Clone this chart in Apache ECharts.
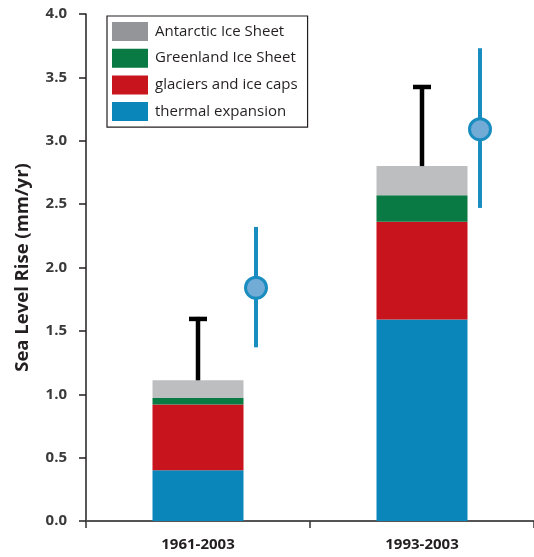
<!DOCTYPE html>
<html><head><meta charset="utf-8">
<script src="https://cdn.jsdelivr.net/npm/echarts@6/dist/echarts.min.js"></script>
<style>html,body{margin:0;padding:0;background:#fff}#c{width:534px;height:557px}</style>
</head><body><div id="c"></div>
<script>
var categories = ['1961-2003', '1993-2003'];
var thermal = [0.40, 1.59];
var glaciers = [0.52, 0.77];
var greenland = [0.05, 0.21];
var antarctic = [0.14, 0.23];
var modelUpper = [1.61, 3.44];
var observed = [1.84, 3.09];
var observedLow = [1.37, 2.47];
var observedHigh = [2.32, 3.73];
var yTicks = [0, 0.5, 1.0, 1.5, 2.0, 2.5, 3.0, 3.5, 4.0];

var FONT = '"Open Sans", "Noto Sans", sans-serif';
var TXT = '#231f20';

var totals = thermal.map(function (v, i) { return v + glaciers[i] + greenland[i] + antarctic[i]; });

function bar(name, data, color) {
  return { name: name, type: 'bar', stack: 'total', data: data, barWidth: 91,
    itemStyle: { color: color }, emphasis: { disabled: true }, z: 2 };
}

var chart = echarts.init(document.getElementById('c'), null, { renderer: 'canvas' });
chart.setOption({
  animation: false,
  grid: { left: 86, width: 456, top: 14, bottom: 36, containLabel: false },
  legend: {
    left: 107, top: 16, orient: 'vertical', icon: 'rect',
    itemWidth: 36, itemHeight: 19, itemGap: 7.7,
    padding: [6, 10, 6, 5],
    borderColor: '#231f20', borderWidth: 1.2,
    textStyle: { fontFamily: FONT, fontSize: 15, color: TXT, padding: [0, 0, 0, 2] },
    data: [
      { name: 'Antarctic Ice Sheet', itemStyle: { color: '#939598' } },
      { name: 'Greenland Ice Sheet', itemStyle: { color: '#0a7a45' } },
      { name: 'glaciers and ice caps', itemStyle: { color: '#c8151d' } },
      { name: 'thermal expansion', itemStyle: { color: '#0a86bb' } }
    ]
  },
  xAxis: {
    type: 'category', data: categories,
    axisLine: { show: true, lineStyle: { color: '#555', width: 2 } },
    axisTick: { show: true, alignWithLabel: false, length: 7, lineStyle: { color: '#333', width: 1.5 } },
    axisLabel: { fontFamily: FONT, fontSize: 15, fontWeight: 'bold', color: TXT, margin: 16 }
  },
  yAxis: {
    type: 'value', min: 0, max: 4, interval: 0.5,
    name: 'Sea Level Rise (mm/yr)', nameLocation: 'middle', nameGap: 54,
    nameTextStyle: { fontFamily: FONT, fontSize: 18.5, fontWeight: 'bold', color: TXT },
    axisLine: { show: true, lineStyle: { color: '#231f20', width: 1.5 } },
    axisTick: { show: true, inside: false, length: 7, lineStyle: { color: '#231f20', width: 1.5 } },
    splitLine: { show: false },
    axisLabel: { fontFamily: FONT, fontSize: 15, fontWeight: 'bold', color: '#3a3a3a', margin: 19,
      formatter: function (v) { return v.toFixed(1); } }
  },
  series: [
    bar('thermal expansion', thermal, '#0a86bb'),
    bar('glaciers and ice caps', glaciers, '#c8151d'),
    bar('Greenland Ice Sheet', greenland, '#0a7a45'),
    bar('Antarctic Ice Sheet', antarctic, '#bdbec0'),
    {
      name: 'model error', type: 'custom', z: 3,
      data: categories.map(function (c, i) { return [i, totals[i], modelUpper[i]]; }),
      renderItem: function (params, api) {
        var lo = api.coord([api.value(0), api.value(1)]);
        var hi = api.coord([api.value(0), api.value(2)]);
        var x = lo[0];
        return { type: 'group', children: [
          { type: 'line', shape: { x1: x, y1: lo[1], x2: x, y2: hi[1] }, style: { stroke: '#000', lineWidth: 4.5 } },
          { type: 'line', shape: { x1: x - 9, y1: hi[1] + 2, x2: x + 9, y2: hi[1] + 2 }, style: { stroke: '#000', lineWidth: 4.5 } }
        ] };
      }
    },
    {
      name: 'observed', type: 'custom', z: 4,
      data: categories.map(function (c, i) { return [i, observed[i], observedLow[i], observedHigh[i]]; }),
      renderItem: function (params, api) {
        var c = api.coord([api.value(0), api.value(1)]);
        var lo = api.coord([api.value(0), api.value(2)]);
        var hi = api.coord([api.value(0), api.value(3)]);
        var x = c[0] + 58;
        return { type: 'group', children: [
          { type: 'line', shape: { x1: x, y1: lo[1], x2: x, y2: hi[1] }, style: { stroke: '#1a8dc0', lineWidth: 4 } },
          { type: 'circle', shape: { cx: x, cy: c[1], r: 10.5 }, style: { fill: '#72acd6', stroke: '#1a8dc0', lineWidth: 3 } }
        ] };
      }
    }
  ]
});
</script>
</body></html>
